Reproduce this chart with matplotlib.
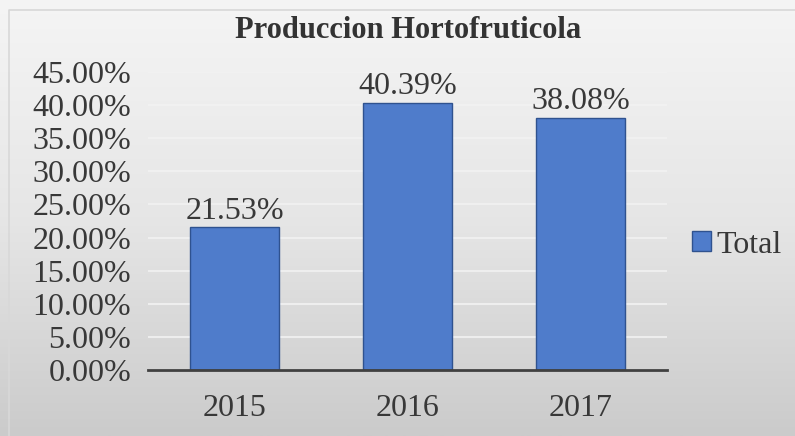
import numpy as np
import matplotlib
matplotlib.use("Agg")
import matplotlib.pyplot as plt
from matplotlib.ticker import FuncFormatter, MultipleLocator
from matplotlib.colors import LinearSegmentedColormap

categories = ["2015", "2016", "2017"]
values = [21.53, 40.39, 38.08]
series_name = "Total"
title = "Produccion Hortofruticola"

plt.rcParams['font.family'] = ['Liberation Serif', 'DejaVu Serif']

W, H = 795, 436
fig = plt.figure(figsize=(W / 100, H / 100), dpi=100)

# background gradient
bg = fig.add_axes([0, 0, 1, 1], zorder=-10)
grad = np.linspace(0, 1, 256).reshape(-1, 1)
cmap = LinearSegmentedColormap.from_list("g", ["#f5f5f5", "#e6e6e6", "#cbcbcb"])
bg.imshow(grad, aspect='auto', cmap=cmap, extent=[0, 1, 0, 1], origin='upper')
bg.plot([9 / W, 9 / W, 1], [0, 1 - 10 / H, 1 - 10 / H], color="#d8d8d8", lw=1.2)
bg.set_xlim(0, 1); bg.set_ylim(0, 1)
bg.axis('off')

ax = fig.add_axes([148 / W, 1 - 370 / H, (667 - 148) / W, (370 - 72) / H])
ax.patch.set_alpha(0)
x = np.arange(len(categories))
bars = ax.bar(x, values, width=0.51, color="#4f7ccb", edgecolor="#2f528f", linewidth=1.0,
              label=series_name, zorder=3)
ax.set_xlim(-0.5, 2.5)
ax.set_ylim(0, 45)
ax.yaxis.set_major_locator(MultipleLocator(5))
ax.yaxis.set_major_formatter(FuncFormatter(lambda v, p: f"{v:.2f}%"))
ax.set_xticks(x)
ax.set_xticklabels(categories)
ax.tick_params(axis='both', length=0, labelsize=23, labelcolor="#383838")
ax.tick_params(axis='y', pad=12)
ax.tick_params(axis='x', pad=17)
ax.grid(axis='y', color="#f2f2f2", lw=1.2, zorder=0)
for s in ['top', 'right', 'left']:
    ax.spines[s].set_visible(False)
ax.spines['bottom'].set_color("#404040")
ax.spines['bottom'].set_linewidth(2)
ax.spines['bottom'].set_zorder(4)

for xi, v in zip(x, values):
    ax.annotate(f"{v:.2f}%", (xi, v), xytext=(0, 1), textcoords='offset points',
                ha='center', va='bottom', fontsize=23, color="#383838")

fig.text(408 / W, 1 - 31 / H, title, ha='center', va='center', fontsize=22,
         fontweight='bold', color="#333333")

leg = fig.legend(handles=[bars], labels=[series_name], loc='center left',
                 bbox_to_anchor=(692 / W, 1 - 245 / H), frameon=False, fontsize=23,
                 borderpad=0, borderaxespad=0,
                 handlelength=0.6, handleheight=0.6, handletextpad=0.15, labelcolor="#383838")

fig.savefig("out.png", dpi=100)
